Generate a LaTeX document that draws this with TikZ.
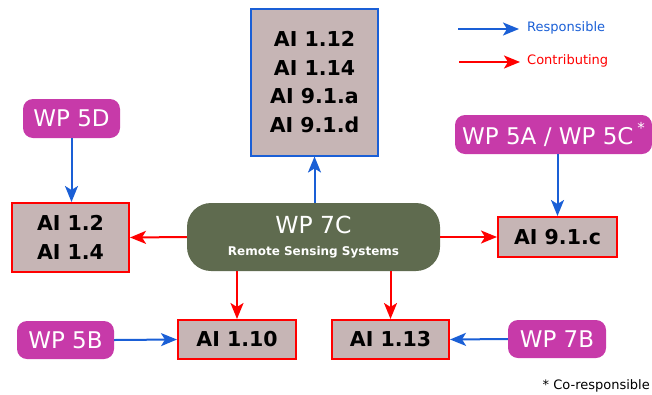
\documentclass[tikz,border=0pt]{standalone}
\usepackage{fontspec}
\setmainfont{DejaVu Sans}
\usetikzlibrary{arrows.meta}
\definecolor{wpPink}{HTML}{C73AA9}
\definecolor{aiFill}{HTML}{C6B5B5}
\definecolor{hubFill}{HTML}{5F6B4F}
\definecolor{respBlue}{HTML}{1A5FD6}
\definecolor{contRed}{HTML}{FF0000}
\tikzset{
  aibox/.style={draw=contRed, line width=2pt, fill=aiFill, inner sep=0pt,
    align=center, font=\bfseries\fontsize{20.5}{28.5}\selectfont, text=black},
  wpbox/.style={fill=wpPink, rounded corners=10pt, inner sep=0pt,
    font=\fontsize{23}{26}\selectfont, text=white},
  hub/.style={fill=hubFill, rounded corners=24pt, inner sep=0pt, align=center,
    text=white, font=\bfseries\fontsize{12}{22}\selectfont},
  tip/.style={-{Stealth[length=16pt,width=13pt,inset=4pt]}, line width=2pt},
  resp/.style={tip, draw=respBlue},
  contrib/.style={tip, draw=contRed},
}
\begin{document}
\begin{tikzpicture}[x=1pt,y=-1pt]
\useasboundingbox (0,0) rectangle (652,394);
% work packages and agenda items
\node[aibox, draw=respBlue, minimum width=127pt, minimum height=147pt] (top) at (314.5,82)
  {AI 1.12\\AI 1.14\\AI 9.1.a\\AI 9.1.d};
\node[hub, minimum width=253pt, minimum height=68pt] (ctr) at (313.5,237)
  {{\mdseries\fontsize{23.5}{22}\selectfont WP 7C}\\Remote Sensing Systems};
\node[aibox, minimum width=117pt, minimum height=69pt] (left) at (70.5,237.5) {AI 1.2\\AI 1.4};
\node[wpbox, minimum width=97pt, minimum height=39pt] (wp5d) at (71.5,118.5) {WP 5D};
\node[aibox, minimum width=119pt, minimum height=40pt] (ai91c) at (557.5,237) {AI 9.1.c};
\node[wpbox, minimum width=197pt, minimum height=39pt] (wp5a) at (553.5,134.5)
  {WP 5A / WP 5C\,\raisebox{0.45em}{\fontsize{15}{15}\selectfont *}};
\node[aibox, minimum width=118pt, minimum height=39pt] (ai110) at (237,339.5) {AI 1.10};
\node[aibox, minimum width=117pt, minimum height=39pt] (ai113) at (390.5,339.5) {AI 1.13};
\node[wpbox, minimum width=97pt, minimum height=38pt] (wp5b) at (65.5,340) {WP 5B};
\node[wpbox, minimum width=98pt, minimum height=38pt] (wp7b) at (557,339) {WP 7B};
% connectors
\draw[resp] (top.south |- ctr.north) -- (top.south);
\draw[resp] (wp5d.south) -- (left.north -| wp5d.south);
\draw[resp] (ai91c.north |- wp5a.south) -- (ai91c.north);
\draw[contrib] (ctr.west) -- (left.east);
\draw[contrib] (ctr.east) -- (ai91c.west);
\draw[contrib] (ai110.north |- ctr.south) -- (ai110.north);
\draw[contrib] (ai113.north |- ctr.south) -- (ai113.north);
\draw[resp] (wp5b.east) -- (ai110.west);
\draw[resp] (wp7b.west) -- (ai113.east);
% legend
\coordinate (rs) at (458,29); \coordinate (re) at (519,29);
\coordinate (cs) at (459,62); \coordinate (ce) at (520,62);
\draw[resp] (rs) -- (re);
\draw[contrib] (cs) -- (ce);
\node[anchor=west, inner sep=0pt, text=respBlue, font=\fontsize{13}{15}\selectfont] (lresp) at (527,28) {Responsible};
\node[anchor=west, inner sep=0pt, text=contRed, font=\fontsize{13}{15}\selectfont] (lcont) at (527,61) {Contributing};
\node[anchor=east, inner sep=0pt, font=\fontsize{13}{15}\selectfont] (note) at (650,386)
  {\raisebox{0.05em}{*} Co-responsible};
\end{tikzpicture}
\end{document}
